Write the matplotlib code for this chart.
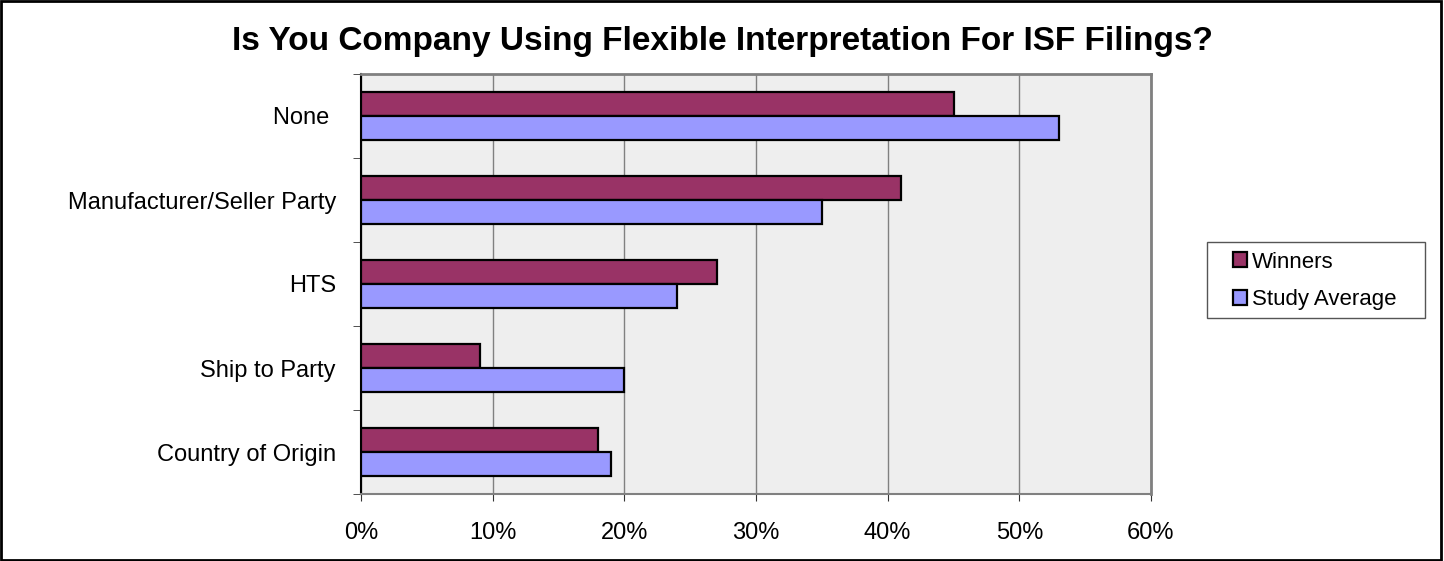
import matplotlib.pyplot as plt
from matplotlib.patches import Rectangle
import numpy as np

plt.rcParams['font.family'] = ['Liberation Sans', 'DejaVu Sans']

categories = ['None ', 'Manufacturer/Seller Party', 'HTS', 'Ship to Party', 'Country of Origin']
winners = [45, 41, 27, 9, 18]
study_avg = [53, 35, 24, 20, 19]
x_ticks = [0, 10, 20, 30, 40, 50, 60]
x_labels = ['0%', '10%', '20%', '30%', '40%', '50%', '60%']

W, H = 1444, 561
fig = plt.figure(figsize=(W / 100, H / 100), dpi=100)
ax = fig.add_axes([361 / W, 1 - 494 / H, 790 / W, 420 / H])

y = np.arange(len(categories))
h = 0.28
ax.barh(y - h / 2, winners, height=h, color='#993366', edgecolor='black', linewidth=1.6, label='Winners', zorder=3)
ax.barh(y + h / 2, study_avg, height=h, color='#9999FF', edgecolor='black', linewidth=1.6, label='Study Average', zorder=3)

ax.set_xlim(0, 60)
ax.set_ylim(len(categories) - 0.5, -0.5)
ax.set_facecolor('#EEEEEE')
ax.set_xticks(x_ticks)
ax.set_xticklabels(x_labels, fontsize=17)
ax.set_yticks(y)
ax.set_yticklabels(categories, fontsize=17)
ax.tick_params(axis='y', length=0, pad=18)
ax.set_yticks(np.arange(-0.5, len(categories), 1), minor=True)
ax.tick_params(axis='y', which='minor', length=6, direction='out', color='#333333')
ax.tick_params(axis='x', length=5, direction='out', pad=15, color='#333333')
ax.grid(axis='x', color='#808080', linewidth=1, zorder=0)

for s in ['top', 'right']:
    ax.spines[s].set_color('#808080')
    ax.spines[s].set_linewidth(2)
ax.spines['left'].set_color('black')
ax.spines['left'].set_linewidth(1.5)
ax.spines['bottom'].set_color('#808080')
ax.spines['bottom'].set_linewidth(1.5)

fig.text(0.5, 1 - 50 / H, 'Is You Company Using Flexible Interpretation For ISF Filings?',
         ha='center', va='baseline', fontsize=24, fontweight='bold')

# legend: entries without frame, box drawn separately
leg = fig.legend(loc='center left', bbox_to_anchor=(1233 / W, 1 - 281 / H), fontsize=16,
                 frameon=False, handlelength=0.65, handleheight=0.65,
                 handletextpad=0.2, borderpad=0, labelspacing=0.75, borderaxespad=0)
fig.patches.append(Rectangle((1207 / W, 1 - 318 / H), 218 / W, 76 / H, transform=fig.transFigure,
                             fill=False, edgecolor='#555555', linewidth=1))

fig.patches.append(Rectangle((0.001, 0.002), 0.997, 0.996, transform=fig.transFigure,
                             fill=False, edgecolor='black', linewidth=2))

fig.savefig('out.png', dpi=100)
